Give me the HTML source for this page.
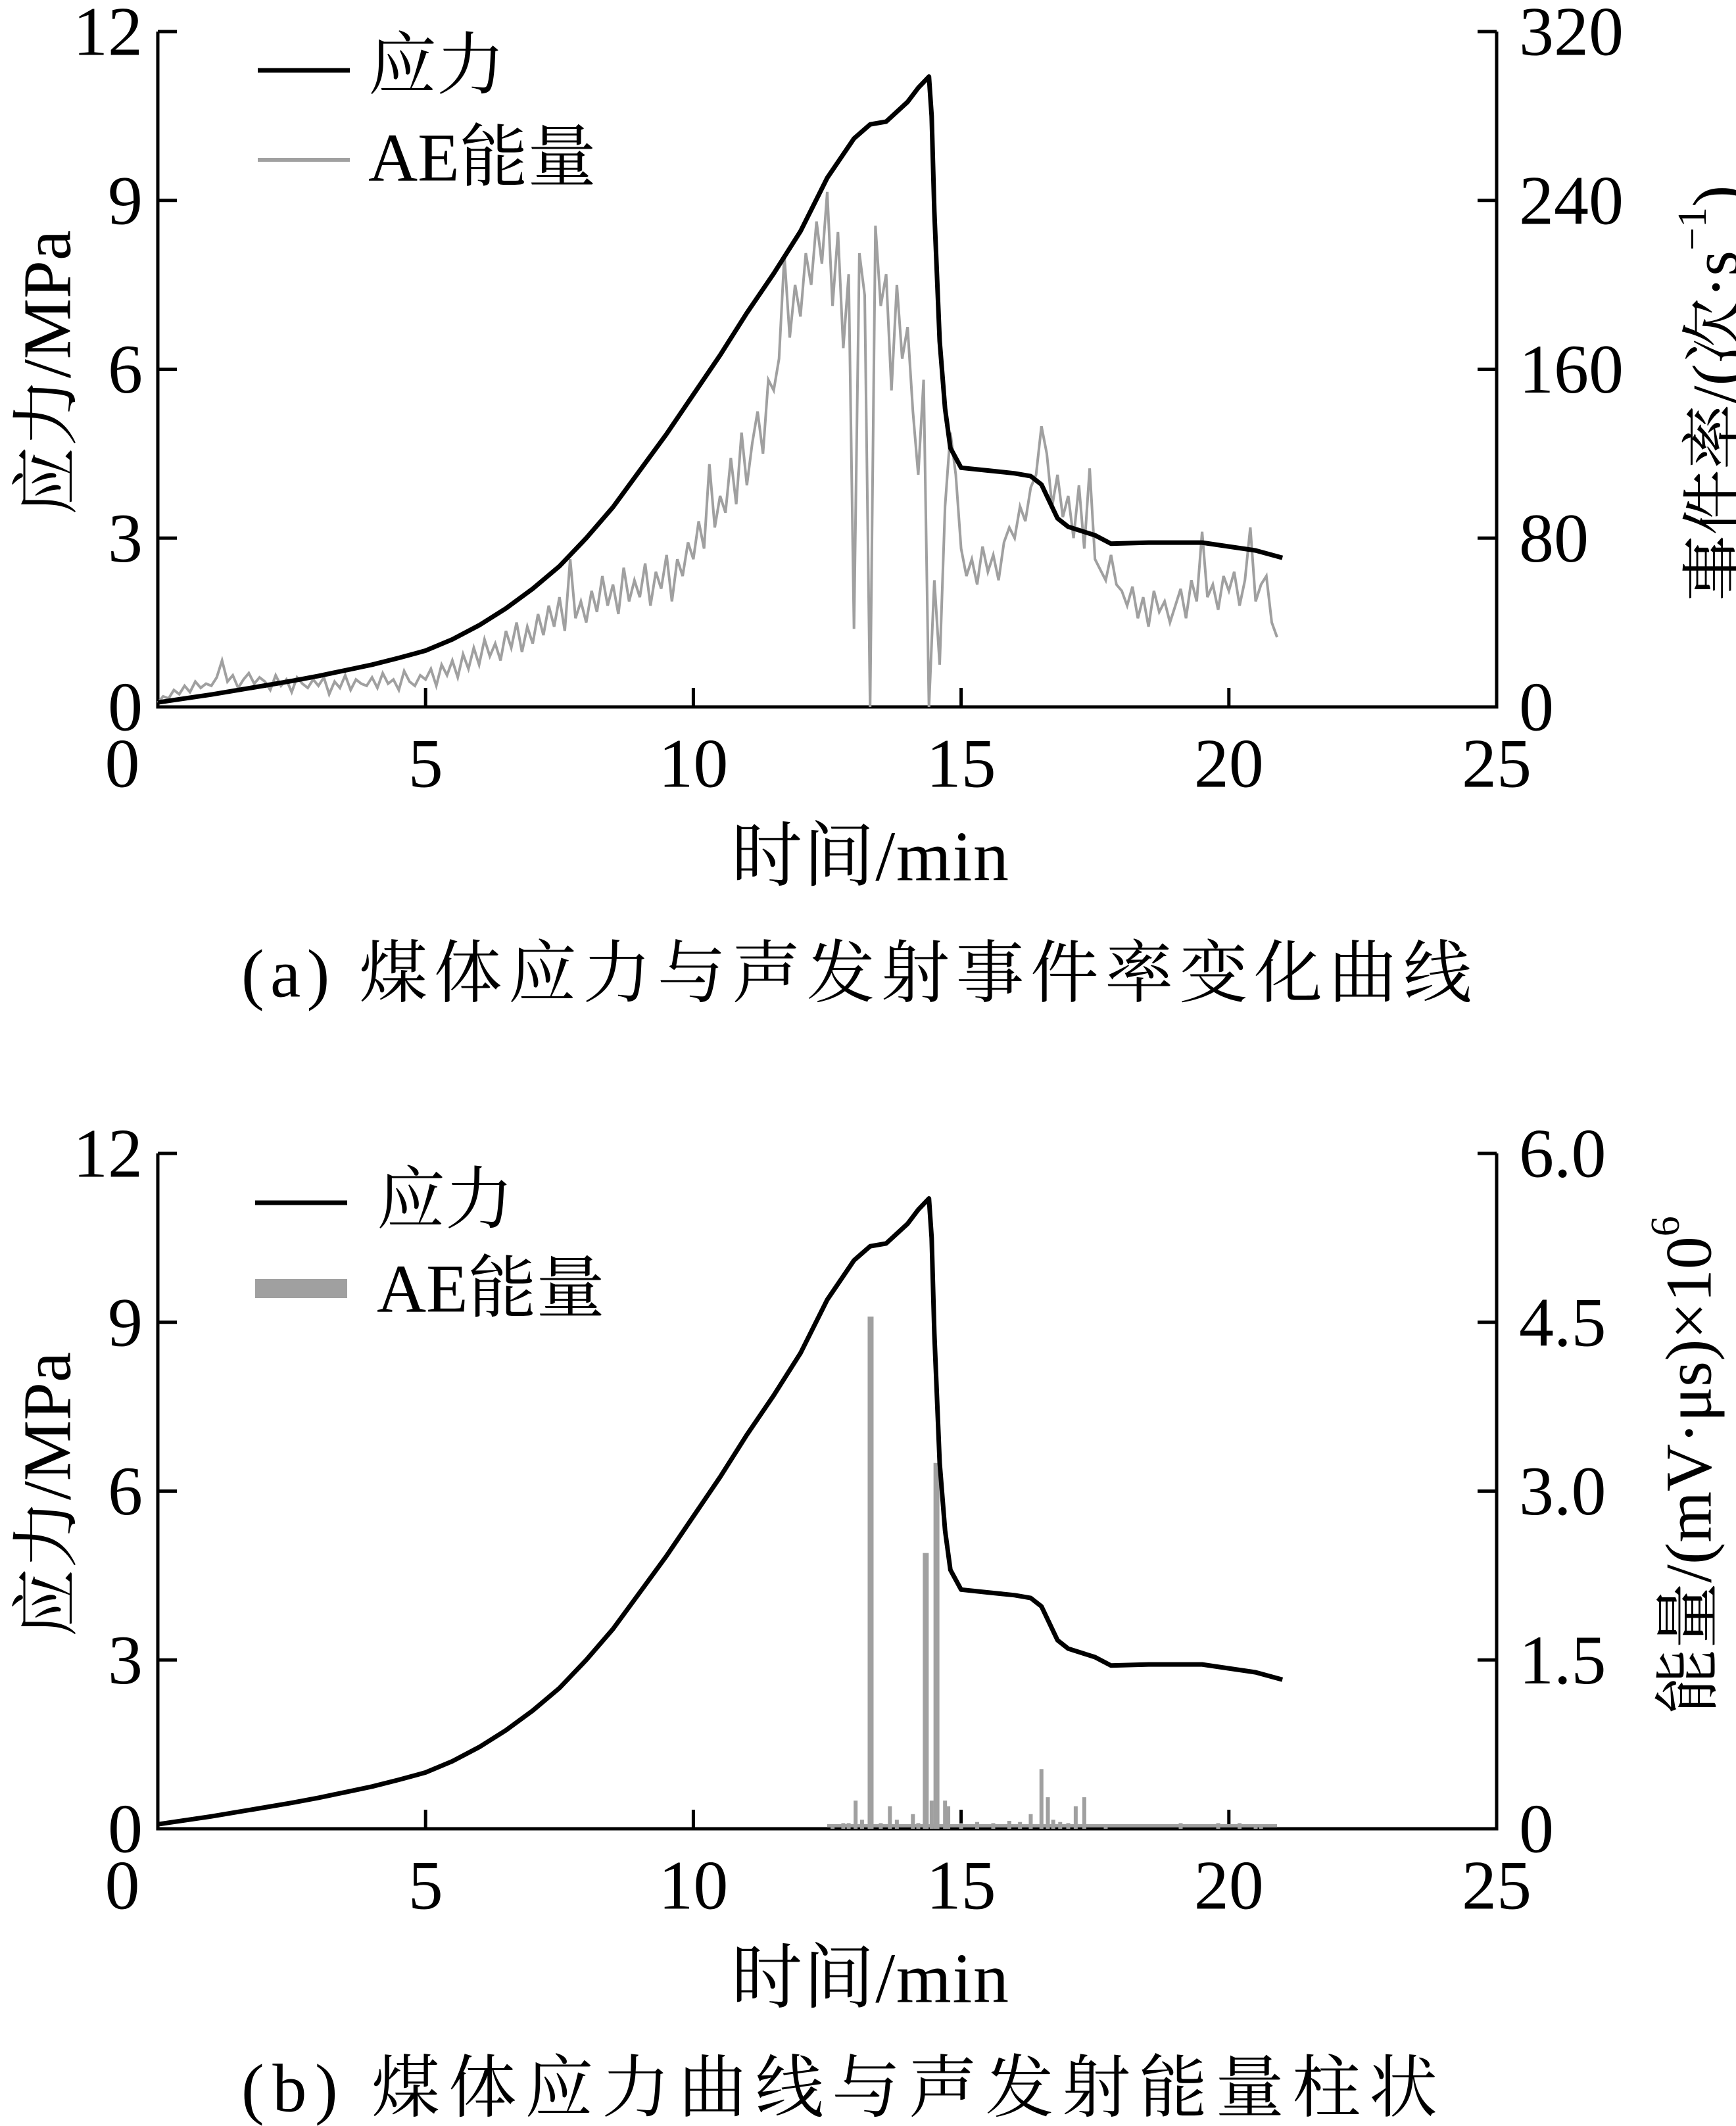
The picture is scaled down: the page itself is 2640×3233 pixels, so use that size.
<!DOCTYPE html>
<html><head><meta charset="utf-8"><style>
html,body{margin:0;padding:0;background:#fff;}
svg{display:block;}
text{font-family:"Liberation Serif","Noto Serif CJK SC",serif;fill:#000;}
</style></head><body>
<svg id="fig" width="2640" height="3233" viewBox="0 0 2640 3233" xmlns="http://www.w3.org/2000/svg"></svg>
<script>
const timeTicks = [0,5,10,15,20,25];
const stressTicks = [3,6,9,12];
const rateTickLabels = ["0","80","160","240","320"];
const energyTickLabels = ["0","1.5","3.0","4.5","6.0"];
const stressTime = [0,0.5,1,1.5,2,2.5,3,3.5,4,4.5,5,5.5,6,6.5,7,7.5,8,8.5,9,9.5,10,10.5,11,11.5,12,12.5,13,13.3,13.6,14,14.2,14.4,14.45,14.5,14.6,14.7,14.8,15,15.5,16,16.3,16.5,16.8,17,17.5,17.8,18.5,19.5,20,20.5,21];
const stressVal = [0.08,0.15,0.22,0.3,0.38,0.46,0.55,0.65,0.75,0.87,1.0,1.2,1.45,1.75,2.1,2.5,3.0,3.55,4.2,4.85,5.55,6.25,7.0,7.7,8.45,9.4,10.1,10.35,10.4,10.75,11.0,11.2,10.5,8.8,6.5,5.3,4.6,4.25,4.2,4.15,4.1,3.95,3.35,3.2,3.05,2.9,2.92,2.92,2.85,2.78,2.65];
const rateStart = 0, rateStep = 0.1;
const rateVal = [2,5,4,8,6,10,7,12,9,11,
10,14,22,12,15,9,13,16,11,14,
12,8,15,10,13,7,14,11,9,13,
10,14,6,12,9,15,8,13,11,10,
14,9,16,11,13,8,17,12,10,15,
13,18,10,20,15,22,14,25,18,28,
20,32,24,30,22,36,28,40,26,38,
30,44,34,48,38,52,36,70,42,50,
40,55,45,62,48,58,44,66,50,60,
52,68,48,64,56,72,50,70,62,78,
70,88,75,115,85,100,92,118,96,130,
105,125,140,120,155,150,165,214,175,200,
185,215,200,230,210,244,190,225,170,205,
37,215,195,0,228,190,205,150,200,165,
180,140,110,155,0,60,20,95,130,110,
75,62,70,58,76,64,72,60,78,85,
80,95,88,104,110,133,120,95,110,90,
100,80,105,75,113,70,65,60,72,58,
55,48,57,42,52,38,55,45,50,40,
48,56,42,60,50,83,52,58,46,62,
55,64,48,60,85,50,58,62,40,33];
const energyTime = [12.6,12.8,12.9,13.03,13.15,13.31,13.5,13.67,13.8,14.1,14.2,14.34,14.45,14.54,14.7,14.76,15.0,15.3,15.6,15.9,16.1,16.3,16.5,16.62,16.72,16.85,17.0,17.14,17.3,17.7,19.1,19.8,20.2,20.5,20.6];
const energyVal = [0.03,0.05,0.05,0.25,0.08,4.55,0.05,0.2,0.08,0.13,0.05,2.45,0.25,3.25,0.25,0.2,0.05,0.06,0.05,0.07,0.06,0.13,0.53,0.28,0.08,0.06,0.05,0.2,0.28,0.03,0.05,0.05,0.05,0.03,0.03];

const NS="http://www.w3.org/2000/svg";
const svg=document.getElementById('fig');
function mk(tag,attrs,parent,txt){const e=document.createElementNS(NS,tag);for(const k in attrs)e.setAttribute(k,attrs[k]);if(txt!==undefined)e.textContent=txt;(parent||svg).appendChild(e);return e;}
const X0=240,X1=2276;
function xs(t){return X0+(t/25)*(X1-X0);}

function panel(top,bot,id){
  const g=mk('g',{});
  
  
  const ys=v=>bot-(v/12)*(bot-top);
  const ax=mk('path',{d:`M${X0},${top} L${X0},${bot} L${X1},${bot} L${X1},${top}`,fill:'none',stroke:'#000','stroke-width':5},g);
  
  
  stressTicks.forEach(v=>{
    const y=ys(v);
    const tk=mk('path',{d:`M${X0},${y} L${X0+29},${y} M${X1},${y} L${X1-29},${y}`,stroke:'#000','stroke-width':5},g);
    
    
  });
  [0,3,6,9,12].forEach(v=>{
    const t=mk('text',{x:217,y:ys(v),'font-size':106,'text-anchor':'end','dominant-baseline':'central'},g,String(v));
    
    
  });
  timeTicks.forEach(v=>{
    if(v>0&&v<25){const tk=mk('path',{d:`M${xs(v)},${bot} L${xs(v)},${bot-29}`,stroke:'#000','stroke-width':5},g);
    
    }
    const lx=v===0?186:xs(v);
    const t=mk('text',{x:lx,y:bot+86,'font-size':106,'text-anchor':'middle','dominant-baseline':'central'},g,String(v));
    
    
  });
  const xt=mk('text',{x:1323,y:bot+228,'font-size':108,'text-anchor':'middle','dominant-baseline':'central',textLength:422},g,'时间/min');
  
  
  const lt=mk('text',{x:72,y:(top+bot)/2+5,'font-size':104,'text-anchor':'middle','dominant-baseline':'central',transform:`rotate(-90 72 ${(top+bot)/2+5})`},g,'应力/MPa');
  
  
  return {g,ys};
}
function stressLine(g,ys){
  const d=stressTime.map((t,i)=>(i?'L':'M')+xs(t).toFixed(1)+','+ys(stressVal[i]).toFixed(1)).join(' ');
  const p=mk('path',{d,fill:'none',stroke:'#000','stroke-width':7,'stroke-linejoin':'round'},g);
  
  
}

// Panel A
const A=panel(48,1075,'panel-a');
const rs=v=>1075-(v/320)*(1075-48);
rateTickLabels.forEach((l,i)=>{
  const t=mk('text',{x:2310,y:rs(i*80),'font-size':106,'dominant-baseline':'central'},A.g,l);
  
  
});
const rd=rateVal.map((v,i)=>(i?'L':'M')+xs(rateStart+i*rateStep).toFixed(1)+','+rs(v).toFixed(1)).join(' ');
const rp=mk('path',{d:rd,fill:'none',stroke:'#a0a0a0','stroke-width':4,'stroke-linejoin':'miter'},A.g);


stressLine(A.g,A.ys);
const rta=mk('text',{x:2609,y:598,'font-size':100,'text-anchor':'middle','dominant-baseline':'central',transform:'rotate(-90 2609 598)'},A.g);


rta.innerHTML='事件率/(次·s<tspan dy="-35" font-size="62">−1</tspan><tspan dy="35">)</tspan>';
let l1=mk('line',{x1:392,y1:107,x2:532,y2:107,stroke:'#000','stroke-width':7},A.g);


let t1=mk('text',{x:560,y:100,'font-size':104,'dominant-baseline':'central'},A.g,'应力');


let l2=mk('line',{x1:392,y1:243,x2:532,y2:243,stroke:'#a0a0a0','stroke-width':6},A.g);


let t2=mk('text',{x:560,y:240,'font-size':104,'dominant-baseline':'central'},A.g,'AE能量');


let ca=mk('text',{x:367,y:1481,'font-size':104,'dominant-baseline':'central',textLength:1871,lengthAdjust:'spacing'},svg,'(a)  煤体应力与声发射事件率变化曲线');



// Panel B
const B=panel(1754,2781,'panel-b');
const es=v=>2781-(v/6)*(2781-1754);
energyTickLabels.forEach((l,i)=>{
  const t=mk('text',{x:2310,y:es(i*1.5),'font-size':106,'dominant-baseline':'central'},B.g,l);
  
  
});
const base=mk('rect',{x:xs(12.5),y:2774,width:xs(20.9)-xs(12.5),height:5,fill:'#a0a0a0'},B.g);


energyTime.forEach((t,i)=>{
  const w=energyVal[i]>1?9:6;
  const r=mk('rect',{x:xs(t)-w/2,y:es(energyVal[i]),width:w,height:2781-es(energyVal[i]),fill:'#a0a0a0'},B.g);
  
  
});
stressLine(B.g,B.ys);
const rtb=mk('text',{x:2568,y:2228,'font-size':100,'text-anchor':'middle','dominant-baseline':'central',transform:'rotate(-90 2568 2228)'},B.g);


rtb.innerHTML='能量/(mV·μs)×10<tspan dy="-35" font-size="62">6</tspan>';
let l3=mk('line',{x1:388,y1:1829,x2:528,y2:1829,stroke:'#000','stroke-width':7},B.g);


let t3=mk('text',{x:573,y:1825,'font-size':104,'dominant-baseline':'central'},B.g,'应力');


let l4=mk('rect',{x:388,y:1945,width:140,height:29,fill:'#a0a0a0'},B.g);


let t4=mk('text',{x:573,y:1960,'font-size':104,'dominant-baseline':'central'},B.g,'AE能量');


let cb=mk('text',{x:367,y:3176,'font-size':104,'dominant-baseline':'central',textLength:1819,lengthAdjust:'spacing'},svg,'(b)  煤体应力曲线与声发射能量柱状');


</script>
</body></html>
